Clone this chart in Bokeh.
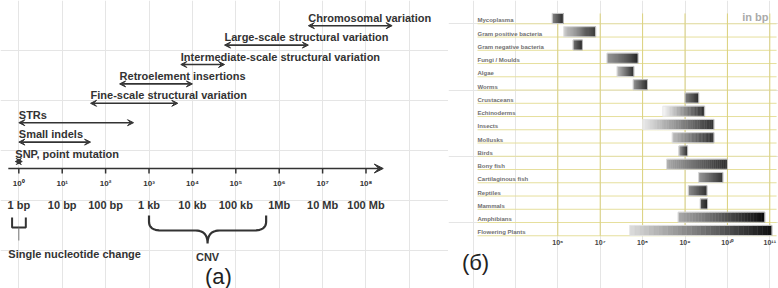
import numpy as np
from bokeh.plotting import figure
from bokeh.models import Range1d, ColumnDataSource, Arrow, VeeHead
from bokeh.layouts import row
from bokeh.embed import file_html
from bokeh.resources import INLINE
from bokeh.core.properties import value

# ---------------- Panel (a): scales of genetic variation (bp) ----------------
var_names = ["SNP, point mutation", "Small indels", "STRs",
             "Fine-scale structural variation", "Retroelement insertions",
             "Intermediate-scale structural variation",
             "Large-scale structural variation", "Chromosomal variation"]
var_low = [0.83, 1.0, 1.0, 45, 210, 5.4e3, 5.5e4, 4.7e6]
var_high = [1.2, 45, 440, 4.6e3, 1.0e4, 5.5e4, 4.7e6, 4.0e8]

scale_ticks = [1e0, 1e1, 1e2, 1e3, 1e4, 1e5, 1e6, 1e7, 1e8]
scale_exp_labels = ["10⁰", "10¹", "10²", "10³", "10⁴", "10⁵", "10⁶", "10⁷", "10⁸"]
scale_size_labels = ["1 bp", "10 bp", "100 bp", "1 kb", "10 kb", "100 kb", "1Mb", "10 Mb", "100 Mb"]
axis_end = 2.5e8
snc_range = [0.7, 1.45]
snc_label = "Single nucleotide change"
cnv_range = [1e3, 5e5]
cnv_label = "CNV"

# ---------------- Panel (б): genome sizes (bp) ----------------
organisms = ["Mycoplasma", "Gram positive bacteria", "Gram negative bacteria",
             "Fungi / Moulds", "Algae", "Worms", "Crustaceans", "Echinoderms",
             "Insects", "Mollusks", "Birds", "Bony fish", "Cartilaginous fish",
             "Reptiles", "Mammals", "Amphibians", "Flowering Plants"]
genome_min = [7.4e5, 1.38e6, 2.3e6, 1.45e7, 2.5e7, 6.0e7, 1.0e9, 3.0e8,
              1.0e8, 5.0e8, 7.2e8, 3.7e8, 2.1e9, 1.2e9, 2.3e9, 6.9e8, 5.0e7]
genome_max = [1.35e6, 7.8e6, 3.8e6, 7.8e7, 6.2e7, 1.3e8, 2.1e9, 2.9e9,
              4.8e9, 4.8e9, 1.15e9, 1.0e10, 7.8e9, 3.3e9, 3.4e9, 7.6e10, 1.12e11]
decade_ticks = [1e6, 1e7, 1e8, 1e9, 1e10, 1e11]
decade_labels = ["10⁶", "10⁷", "10⁸", "10⁹", "10¹⁰", "10¹¹"]

# gradient styling (grey level at left / right end of each bar)
shade_start = [140, 205, 120, 150, 190, 150, 130, 250, 235, 190, 170, 170, 150, 140, 90, 170, 220]
shade_end = [45, 45, 45, 40, 45, 45, 45, 45, 50, 45, 50, 45, 45, 45, 40, 10, 15]

FONT = value("Liberation Sans")
DARK = "#333333"

# ======================= Left figure =======================
W1, H = 448, 288
X0_LOG = -0.422
p1 = figure(width=W1, height=H, x_axis_type="log",
            x_range=Range1d(10 ** X0_LOG, 10 ** 9.901), y_range=Range1d(H, 0),
            x_axis_location=None, y_axis_location=None,
            toolbar_location=None, output_backend="svg", min_border=0,
            outline_line_color=None, background_fill_color="white",
            border_fill_color="white")

lvl_y = [161 - 19.4 * i for i in range(len(var_names))]
arr_src = ColumnDataSource(dict(x0=var_low, x1=var_high, y=lvl_y))
p1.add_layout(Arrow(source=arr_src, x_start="x0", x_end="x1", y_start="y", y_end="y",
                    line_color=DARK, line_width=1.6,
                    start=VeeHead(size=6, fill_color=DARK, line_color=DARK, line_width=1),
                    end=VeeHead(size=6, fill_color=DARK, line_color=DARK, line_width=1)))
p1.text(x=var_low, y=[y - 2 for y in lvl_y], text=var_names, text_font=FONT,
        text_font_style="bold", text_font_size="11px", text_color=DARK,
        text_align="left", text_baseline="bottom")

# main scale axis
AX_Y = 168
p1.add_layout(Arrow(x_start=10 ** (X0_LOG + 0.18), x_end=axis_end, y_start=AX_Y, y_end=AX_Y,
                    line_color=DARK, line_width=1.6,
                    end=VeeHead(size=9, fill_color=DARK, line_color=DARK, line_width=1)))
p1.segment(x0=scale_ticks, x1=scale_ticks, y0=[AX_Y] * 9, y1=[AX_Y + 5] * 9,
           line_color=DARK, line_width=1.5)
p1.text(x=scale_ticks, y=[183] * 9, text=scale_exp_labels, text_font=FONT,
        text_font_style="bold", text_font_size="8px", text_color=DARK,
        text_align="center", text_baseline="middle")
p1.text(x=scale_ticks, y=[204] * 9, text=scale_size_labels, text_font=FONT,
        text_font_style="bold", text_font_size="11px", text_color=DARK,
        text_align="center", text_baseline="middle")

# single nucleotide bracket
s0, s1 = snc_range
p1.multi_line(xs=[[s0, s0, s1, s1]], ys=[[217, 227, 227, 217]], line_color=DARK, line_width=2)
p1.segment(x0=[1], x1=[1], y0=[227], y1=[240], line_color="#777777", line_width=1)
p1.text(x=[10 ** (X0_LOG + 0.18)], y=[253], text=[snc_label], text_font=FONT,
        text_font_style="bold", text_font_size="11px", text_color=DARK,
        text_align="left", text_baseline="middle")


def qbez(a, c, b, n=12):
    t = np.linspace(0, 1, n)
    return ((1 - t) ** 2 * a[0] + 2 * (1 - t) * t * c[0] + t ** 2 * b[0],
            (1 - t) ** 2 * a[1] + 2 * (1 - t) * t * c[1] + t ** 2 * b[1])


# CNV curly brace (built in log-x space)
la, lb = np.log10(cnv_range[0]), np.log10(cnv_range[1])
lm = (la + lb) / 2
ytop, yh, ytip, dx, dy = 215, 230, 243, 0.28, 9
xs, ys = [la], [ytop]
cx, cy = qbez((la, yh - dy), (la, yh), (la + dx, yh)); xs += list(cx); ys += list(cy)
cx, cy = qbez((lm - dx, yh), (lm, yh), (lm, ytip)); xs += list(cx); ys += list(cy)
cx, cy = qbez((lm, ytip), (lm, yh), (lm + dx, yh)); xs += list(cx); ys += list(cy)
cx, cy = qbez((lb - dx, yh), (lb, yh), (lb, yh - dy)); xs += list(cx); ys += list(cy)
xs.append(lb); ys.append(ytop)
p1.line(x=[10 ** v for v in xs], y=ys, line_color=DARK, line_width=2.2)
p1.text(x=[10 ** lm], y=[256], text=[cnv_label], text_font=FONT, text_font_style="bold",
        text_font_size="11px", text_color=DARK, text_align="center", text_baseline="middle")
p1.text(x=[10 ** 4.6], y=[276], text=["(a)"], text_font=FONT, text_font_size="22px",
        text_color="#222222", text_align="center", text_baseline="middle")

# ======================= Right figure =======================
W2 = 330
n = len(organisms)
p2 = figure(width=W2, height=H, x_axis_type="log",
            x_range=Range1d(10 ** 3.422, 10 ** 11.205), y_range=Range1d(19.98, -1.758),
            x_axis_location=None, y_axis_location=None,
            toolbar_location=None, output_backend="svg", min_border=0,
            outline_line_color=None, background_fill_color="white",
            border_fill_color="white")

rows = list(range(n))
label_x = 10 ** 4.106
p2.segment(x0=[label_x] * n, x1=[10 ** 11.16] * n, y0=rows, y1=rows,
           line_color="#e6df9c", line_width=1)
p2.segment(x0=decade_ticks, x1=decade_ticks, y0=[-0.78] * 6, y1=[n - 1] * 6,
           line_color="#dcd27c", line_width=1)

NSEG = 30
ql, qr, qt, qb, qc = [], [], [], [], []
for i, (lo, hi, g0, g1) in enumerate(zip(genome_min, genome_max, shade_start, shade_end)):
    edges = np.linspace(np.log10(lo), np.log10(hi), NSEG + 1)
    for k in range(NSEG):
        t = (k + 0.5) / NSEG
        g = int(round(g0 + (g1 - g0) * t))
        ql.append(10 ** edges[k]); qr.append(10 ** edges[k + 1])
        qt.append(i - 0.78); qb.append(i - 0.02)
        qc.append("#%02x%02x%02x" % (g, g, g))
p2.quad(left=ql, right=qr, top=qt, bottom=qb, fill_color=qc, line_color=qc, line_width=0.5)
p2.quad(left=genome_min, right=genome_max, top=[i - 0.78 for i in rows],
        bottom=[i - 0.02 for i in rows], fill_color=None, line_color="#e4e4e4", line_width=0.8)

p2.text(x=[label_x] * n, y=[i - 0.03 for i in rows], text=organisms, text_font=FONT,
        text_font_style="bold", text_font_size="6px", text_color="#707070",
        text_align="left", text_baseline="bottom")
p2.text(x=decade_ticks, y=[16.5] * 6, text=decade_labels, text_font=FONT,
        text_font_style="bold", text_font_size="7px", text_color="#444444",
        text_align="center", text_baseline="middle")
p2.text(x=[10 ** 10.97], y=[-0.55], text=["in bp"], text_font=FONT, text_font_style="bold",
        text_font_size="11px", text_color="#aaaaaa", text_align="right", text_baseline="middle")
p2.text(x=[10 ** 4.06], y=[18.0], text=["(б)"], text_font=FONT, text_font_size="22px",
        text_color="#222222", text_align="center", text_baseline="middle")

layout = row(p1, p2)
open("out.html", "w").write(file_html(layout, INLINE))
